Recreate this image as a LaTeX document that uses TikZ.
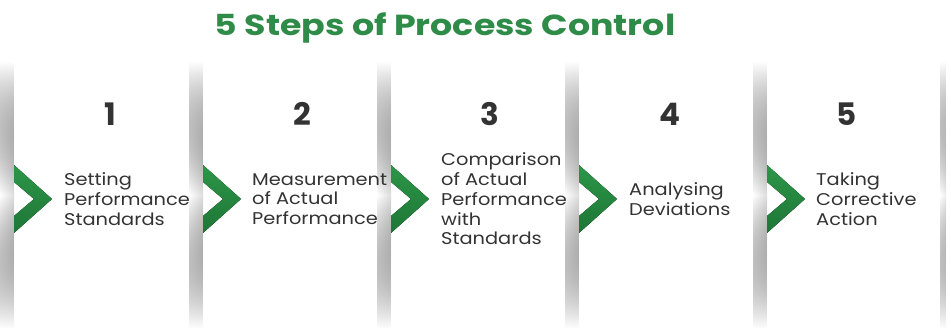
\documentclass[tikz,border=0pt]{standalone}
\usepackage{fontspec}
\setmainfont{Poppins}
\newfontfamily\bodyfont{Poppins}[FakeStretch=1.14]
\newfontfamily\headfont{Poppins}[FakeStretch=1.2]
\usetikzlibrary{fadings}
\definecolor{pgreen}{RGB}{46,139,72}
\definecolor{cgreenA}{RGB}{44,150,72}
\definecolor{cgreenB}{RGB}{30,118,54}
\definecolor{ptext}{RGB}{51,51,51}
\tikzfading[name=vfade, top color=transparent!100, bottom color=transparent!100, middle color=transparent!0]
\tikzset{
  panel/.style={minimum width=188pt, minimum height=266pt, inner sep=0pt, anchor=north west},
  shadowstrip/.style={left color=white, right color=black!13, path fading=vfade},
  chev/.style={top color=cgreenA, bottom color=cgreenB},
  numlabel/.style={font=\fontsize{31}{31}\selectfont\bfseries, text=ptext, inner sep=0pt},
  steptext/.style={font=\bodyfont\fontsize{17}{19.8}\selectfont, text=ptext, align=left, anchor=west, inner sep=0pt},
  titletext/.style={font=\headfont\fontsize{29}{29}\selectfont\bfseries, text=pgreen, inner sep=0pt}
}
\begin{document}
\begin{tikzpicture}[x=1pt,y=-1pt]
\useasboundingbox (0,0) rectangle (951,331);
\fill[white] (0,0) rectangle (951,331);
\node[titletext] (title) at (445,28) {5 Steps of Process Control};
% shadows and panels
\foreach \i/\x in {1/14,2/203,3/391,4/579,5/767}{
  \fill[shadowstrip] (\x-14,62) rectangle (\x,328);
  \node[panel] (p\i) at (\x,62) {};
  \fill[chev] (\x,165) -- (\x+38,199) -- (\x,233) -- (\x,216) -- (\x+20,199) -- (\x,182) -- cycle;
}
\fill[left color=white, right color=black!7, path fading=vfade] (940,62) rectangle (946,328);
% numbers
\node[numlabel] (n1) at (110,114) {1};
\node[numlabel] (n2) at (302,114) {2};
\node[numlabel] (n3) at (490,114) {3};
\node[numlabel] (n4) at (670,114) {4};
\node[numlabel] (n5) at (847,114) {5};
% texts
\node[steptext] (t1) at (64,199) {Setting\\Performance\\Standards};
\node[steptext] (t2) at (252,199) {Measurement\\of Actual\\Performance};
\node[steptext] (t3) at (441,199) {Comparison\\of Actual\\Performance\\with\\Standards};
\node[steptext] (t4) at (629,199) {Analysing\\Deviations};
\node[steptext] (t5) at (816,199) {Taking\\Corrective\\Action};
\end{tikzpicture}
\end{document}
